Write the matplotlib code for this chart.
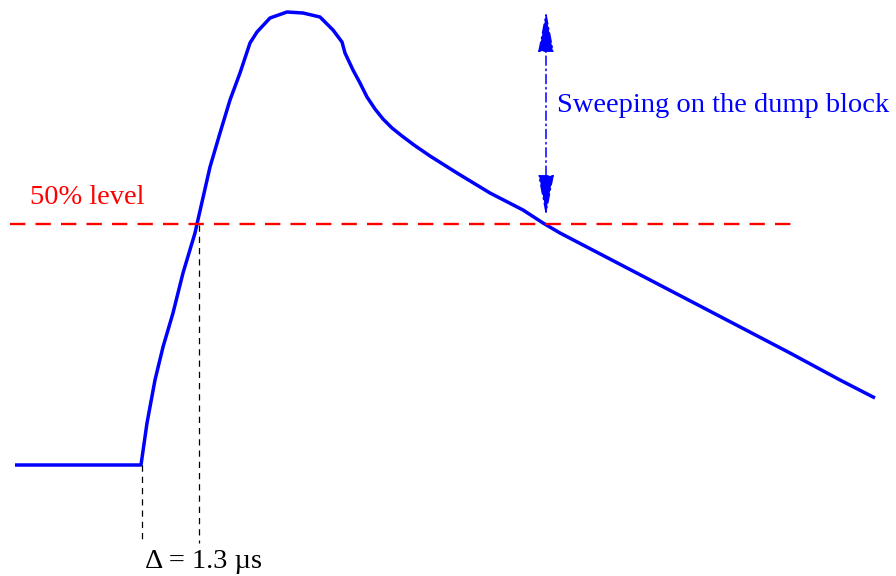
import matplotlib
matplotlib.use("Agg")
import matplotlib.pyplot as plt

# Pulse curve (schematic, in image-pixel-like units; y grows downward)
pulse_x = [15, 141, 147, 155, 163, 173, 183, 195, 197, 210, 220, 230, 240, 250, 257,
           270, 287, 303, 320, 333, 342, 345, 353, 360, 367, 375, 383, 392, 402, 414,
           430, 457, 490, 523, 543, 560, 700, 790, 840, 875]
pulse_y = [465, 465, 423, 380, 347, 313, 273, 233, 224, 167, 133, 100, 73, 43, 32,
           18, 12, 13, 17, 30, 42, 53, 70, 83, 97, 109, 119, 128, 136, 145,
           156, 173, 193, 210, 223, 233, 306, 353, 380, 398]

level_y = 224
level_x = [10, 792]
marker_x = [142, 199]
marker_top = [465, 225]
marker_bottom = 543
arrow_x = 546
arrow_y = [11, 216]

fig = plt.figure(figsize=(8.96, 5.76), dpi=100)
ax = fig.add_axes([0, 0, 1, 1])
ax.set_xlim(0, 896)
ax.set_ylim(576, 0)
ax.axis("off")

serif = "Liberation Serif"

ax.plot(pulse_x, pulse_y, color="#0000ff", lw=2.5, solid_capstyle="butt",
        solid_joinstyle="round")
ax.plot(level_x, [level_y, level_y], color="#ff0000", lw=1.7, dashes=(6.5, 4.3))
for mx, mt in zip(marker_x, marker_top):
    ax.plot([mx, mx], [mt, marker_bottom], color="black", lw=0.9, dashes=(5, 4))

ax.annotate("", xy=(arrow_x, arrow_y[0]), xytext=(arrow_x, arrow_y[1]),
            arrowprops=dict(arrowstyle="<|-|>,head_length=1.3,head_width=0.25",
                            color="#0000ff", lw=1.1,
                            linestyle=(0, (6, 2.5, 1, 2.5)), mutation_scale=20,
                            shrinkA=0, shrinkB=0))

fs = 20.5
ax.text(30, 198, "50% level", color="#ff0000", fontsize=fs, family=serif,
        ha="left", va="center")
ax.text(557, 106, "Sweeping on the dump block", color="#0000ff", fontsize=fs,
        family=serif, ha="left", va="center")
ax.text(145, 562, "Δ = 1.3 µs", color="black", fontsize=fs, family=serif,
        ha="left", va="center")

fig.savefig("out.png", dpi=100)
